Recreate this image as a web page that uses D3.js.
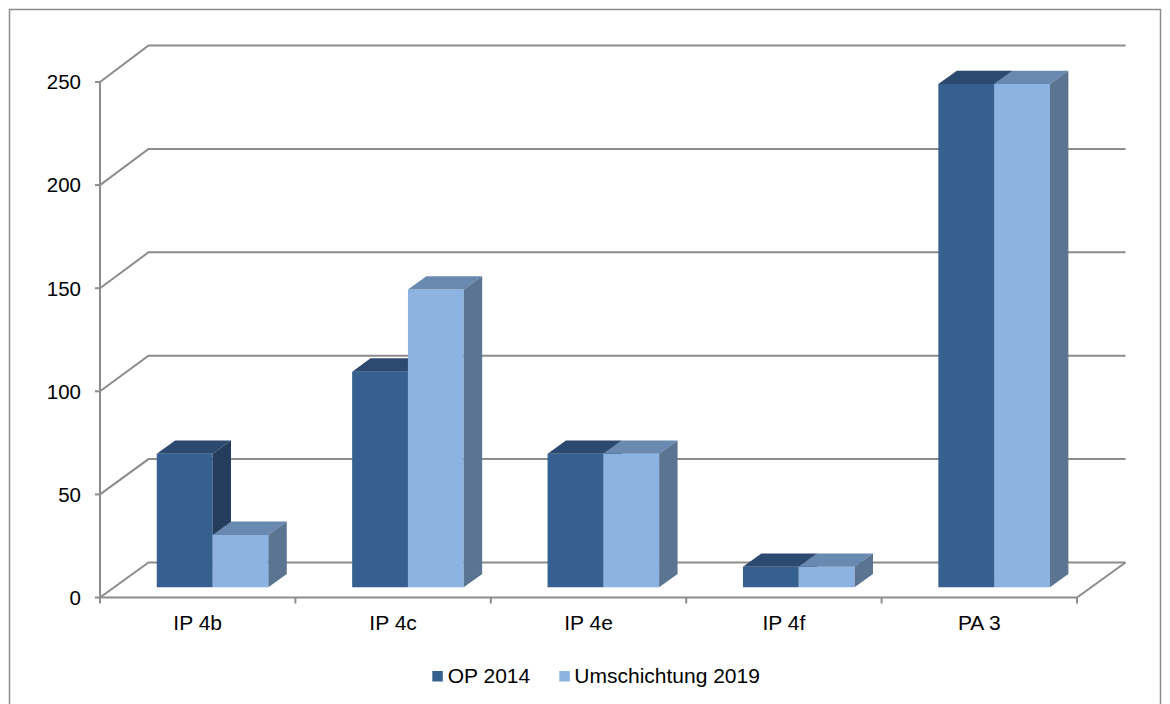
<!DOCTYPE html>
<html>
<head>
<meta charset="utf-8">
<script src="https://cdn.jsdelivr.net/npm/d3@7"></script>
<style>
  html, body { margin: 0; padding: 0; background: #fff; }
  svg { display: block; font-family: "Liberation Sans", Arial, sans-serif; }
</style>
</head>
<body>
<svg id="chart" width="1170" height="704"></svg>
<script>
// ---- data ----
const categories = ["IP 4b", "IP 4c", "IP 4e", "IP 4f", "PA 3"];
const seriesNames = ["OP 2014", "Umschichtung 2019"];
const op2014 = [65, 105, 65, 10, 245];
const umschichtung2019 = [25.5, 145, 65, 10, 245];
const yTicks = [0, 50, 100, 150, 200, 250];

// ---- style ----
const colors = {
  "OP 2014": { front: "#36608f", top: "#2c4a70", side: "#243d5d" },
  "Umschichtung 2019": { front: "#8db3e2", top: "#6a89b0", side: "#5a7492" }
};
const gridColor = "#8c8c8c";

const svg = d3.select("#chart");

// outer border
svg.append("rect").attr("x", 9.5).attr("y", 9.5).attr("width", 1151).attr("height", 710)
  .attr("fill", "none").attr("stroke", gridColor).attr("stroke-width", 1.5);

// ---- geometry ----
const frontLeft = 100, frontRight = 1077;
const depthDX = 48.5, depthDY = -35;   // oblique offset of back wall

const x = d3.scaleBand().domain(categories).range([frontLeft, frontRight]).padding(0);
const yFront = d3.scaleLinear().domain([0, 250]).range([597.5, 82]);
const yBack = d3.scaleLinear().domain([0, 250]).range([562.5, 45.5]);
const xInner = d3.scaleBand().domain(seriesNames).range([42.2, 153.8]).padding(0);

const barD0 = 0.30, barD1 = 0.68;  // relative depth of bar front/back faces
const yBar = d3.scaleLinear().domain([0, 250]).range([587.3, 587.3 - 250 * 2.054]);

const grid = svg.append("g");
// gridlines on back wall + side wall
yTicks.forEach(t => {
  grid.append("polyline")
    .attr("points", [[frontLeft, yFront(t)], [frontLeft + depthDX, yBack(t)], [frontRight + depthDX, yBack(t)]].map(p => p.join(",")).join(" "))
    .attr("fill", "none").attr("stroke", gridColor).attr("stroke-width", 2);
});
// floor front edge and right edge
grid.append("polyline")
  .attr("points", [[frontLeft, yFront(0)], [frontRight, yFront(0)], [frontRight + depthDX, yBack(0)]].map(p => p.join(",")).join(" "))
  .attr("fill", "none").attr("stroke", gridColor).attr("stroke-width", 2);
// vertical axis line
grid.append("line").attr("x1", frontLeft).attr("x2", frontLeft)
  .attr("y1", yFront(250)).attr("y2", yFront(0))
  .attr("stroke", gridColor).attr("stroke-width", 2);
// y ticks
yTicks.forEach(t => {
  grid.append("line").attr("x1", frontLeft - 5).attr("x2", frontLeft)
    .attr("y1", yFront(t)).attr("y2", yFront(t))
    .attr("stroke", gridColor).attr("stroke-width", 2);
  svg.append("text").attr("x", 81).attr("y", yFront(t)).attr("dy", "0.36em")
    .attr("text-anchor", "end").attr("font-size", 20.5).attr("fill", "#000").text(t);
});
// x ticks
const xTickPos = categories.map(c => x(c)).concat([frontRight]);
xTickPos.forEach(px => {
  grid.append("line").attr("x1", px).attr("x2", px)
    .attr("y1", yFront(0)).attr("y2", yFront(0) + 6)
    .attr("stroke", gridColor).attr("stroke-width", 2);
});
categories.forEach(c => {
  svg.append("text").attr("x", x(c) + x.bandwidth() / 2).attr("y", 630)
    .attr("text-anchor", "middle").attr("font-size", 21).attr("fill", "#000").text(c);
});

// ---- bars ----
const seriesValues = { "OP 2014": op2014, "Umschichtung 2019": umschichtung2019 };
const bars = svg.append("g");
const ox0 = barD0 * depthDX;                       // front-face horizontal shift
const odx = (barD1 - barD0) * depthDX;             // bar depth dx
const ody = (barD1 - barD0) * depthDY;             // bar depth dy
categories.forEach((c, i) => {
  seriesNames.forEach(s => {
    const v = seriesValues[s][i];
    const x0 = x(c) + xInner(s) + ox0;
    const x1 = x0 + xInner.bandwidth();
    const yT = yBar(v), yB = yBar(0);
    const col = colors[s];
    const pts = a => a.map(p => p.join(",")).join(" ");
    bars.append("polygon").attr("points", pts([[x0, yB], [x0, yT], [x1, yT], [x1, yB]])).attr("fill", col.front);
    bars.append("polygon").attr("points", pts([[x0, yT], [x0 + odx, yT + ody], [x1 + odx, yT + ody], [x1, yT]])).attr("fill", col.top);
    bars.append("polygon").attr("points", pts([[x1, yT], [x1 + odx, yT + ody], [x1 + odx, yB + ody], [x1, yB]])).attr("fill", col.side);
  });
});

// ---- legend ----
const legend = svg.append("g");
const legendItems = [
  { name: seriesNames[0], sx: 432.3, tx: 447.7 },
  { name: seriesNames[1], sx: 559.3, tx: 574.3 }
];
legendItems.forEach(it => {
  legend.append("rect").attr("x", it.sx).attr("y", 671).attr("width", 10.5).attr("height", 10.5)
    .attr("fill", colors[it.name].front);
  legend.append("text").attr("x", it.tx).attr("y", 683).attr("font-size", 21).attr("fill", "#000").text(it.name);
});
</script>
</body>
</html>
